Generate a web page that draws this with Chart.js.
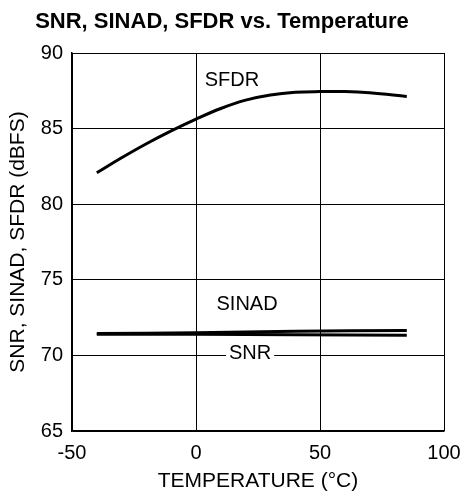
<!DOCTYPE html>
<html>
<head>
<meta charset="utf-8">
<script src="https://cdn.jsdelivr.net/npm/chart.js@4/dist/chart.umd.min.js"></script>
<style>
  html, body { margin: 0; padding: 0; background: #fff; }
  #wrap { width: 464px; height: 502px; }
</style>
</head>
<body>
<div id="wrap"><canvas id="chart"></canvas></div>
<script>
// data
const tempsSfdr = [-40, -30, -20, -10, 0, 10, 20, 30, 40, 50, 60, 70, 85];
const sfdr = [82.08, 83.07, 84.00, 84.85, 85.63, 86.33, 86.88, 87.22, 87.40, 87.45, 87.45, 87.37, 87.13];

const tempsNoise = [-40, 0, 40, 85];
const sinad = [71.45, 71.50, 71.60, 71.65];
const snr = [71.40, 71.40, 71.37, 71.33];

const xTicks = [-50, 0, 50, 100];
const yTicks = [65, 70, 75, 80, 85, 90];

// curve labels, placed in data units
const curveLabels = [
  { text: "SFDR", x: 14.5, y: 88.2, mask: false },
  { text: "SINAD", x: 20.6, y: 73.4, mask: false },
  { text: "SNR", x: 21.8, y: 70.1, mask: true }
];

const pts = (xs, ys) => xs.map((x, i) => ({ x: x, y: ys[i] }));
const FONT = "'Liberation Sans', Arial, sans-serif";

const labelPlugin = {
  id: 'curveLabels',
  afterDatasetsDraw(chart) {
    const ctx = chart.ctx;
    const xs = chart.scales.x, ys = chart.scales.y;
    ctx.save();
    ctx.font = "20px " + FONT;
    ctx.textAlign = "center";
    ctx.textBaseline = "middle";
    curveLabels.forEach(l => {
      const px = xs.getPixelForValue(l.x);
      const py = ys.getPixelForValue(l.y);
      if (l.mask) {
        const w = ctx.measureText(l.text).width;
        ctx.fillStyle = "#fff";
        ctx.fillRect(px - w / 2 - 3, py - 10, w + 6, 20);
      }
      ctx.fillStyle = "#000";
      ctx.fillText(l.text, px, py);
    });
    ctx.restore();
  }
};

const lineStyle = {
  borderColor: '#000',
  borderWidth: 3,
  pointRadius: 0,
  fill: false,
  tension: 0.4
};

new Chart(document.getElementById('chart').getContext('2d'), {
  type: 'line',
  data: {
    datasets: [
      Object.assign({ label: 'SFDR', data: pts(tempsSfdr, sfdr) }, lineStyle),
      Object.assign({ label: 'SINAD', data: pts(tempsNoise, sinad) }, lineStyle),
      Object.assign({ label: 'SNR', data: pts(tempsNoise, snr) }, lineStyle)
    ]
  },
  options: {
    responsive: true,
    maintainAspectRatio: false,
    animation: false,
    layout: { padding: { left: 0, right: 20, top: 0, bottom: 0 } },
    plugins: {
      legend: { display: false },
      tooltip: { enabled: false },
      title: {
        display: true,
        text: 'SNR, SINAD, SFDR vs. Temperature',
        color: '#000',
        font: { family: FONT, size: 22, weight: 'bold' },
        padding: { top: 9, bottom: 17.6 }
      }
    },
    scales: {
      x: {
        type: 'linear',
        min: -50, max: 100,
        afterBuildTicks: s => { s.ticks = xTicks.map(v => ({ value: v })); },
        afterFit: s => { s.height = 71; s.paddingLeft = 0; s.paddingRight = 0; },
        grid: { color: '#000', lineWidth: 1, drawTicks: false },
        border: { color: '#000', width: 1.5 },
        ticks: { color: '#000', padding: 10, font: { family: FONT, size: 20 } },
        title: {
          display: true, text: 'TEMPERATURE (°C)', color: '#000',
          font: { family: FONT, size: 21 }, padding: { top: 0, bottom: 8 }
        }
      },
      y: {
        min: 65, max: 90,
        afterBuildTicks: s => { s.ticks = yTicks.map(v => ({ value: v })); },
        afterFit: s => { s.width = 72; s.paddingTop = 0; s.paddingBottom = 0; },
        grid: { color: '#000', lineWidth: 1, drawTicks: false },
        border: { color: '#000', width: 1.5 },
        ticks: { color: '#000', padding: 9, font: { family: FONT, size: 20 } },
        title: {
          display: true, text: 'SNR, SINAD, SFDR (dBFS)', color: '#000',
          font: { family: FONT, size: 21 }, padding: { top: 6, bottom: 0 }
        }
      }
    }
  },
  plugins: [labelPlugin]
});
</script>
</body>
</html>
